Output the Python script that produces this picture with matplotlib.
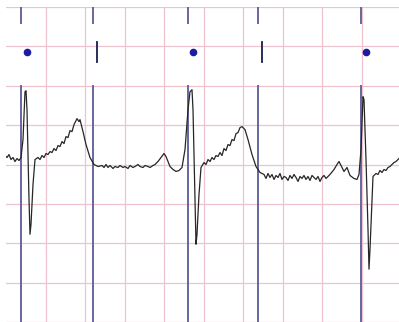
import matplotlib
matplotlib.use("Agg")
import matplotlib.pyplot as plt
import numpy as np

# ECG trace read off the strip (pixel positions on the 399x322 strip),
# converted below to time (s) and amplitude (mV): 0.2 s and 0.5 mV per box
sig_px_x = [5, 7, 9, 11, 13, 15, 17, 19, 21, 23, 25, 26, 27, 29, 30, 31, 33, 35,
            38, 40, 42, 44, 46, 48, 50, 52, 54, 56, 58, 60, 62, 64, 66, 68, 70,
            72, 74, 76, 77, 79, 80, 83, 86, 90, 94, 98,
            102, 104, 106, 108, 110, 113, 115, 118, 120, 123, 125, 128, 130, 133,
            135, 138, 140, 143, 145, 148, 150, 153, 155, 158, 161,
            164, 166, 168, 170, 173, 176, 179, 182, 185, 188, 190, 192, 193, 195,
            196, 197, 199, 201, 204, 206, 208, 210, 212, 214, 216, 218, 220, 222,
            224, 226, 228, 230, 232, 234, 236, 238, 240,
            242, 245, 248, 252, 256, 260, 264, 266, 268, 270, 272, 274, 276, 278,
            280, 282, 284, 286, 288, 290, 292, 294, 296, 298, 300, 302, 304, 306,
            308, 310, 312, 314, 316, 318, 320, 322, 324, 326, 328, 330, 334, 337,
            339, 341, 344, 347, 350, 354, 357, 359, 361, 363, 364, 366, 368, 369,
            370, 372, 373, 376, 378, 380, 382, 384, 386, 388, 390, 392, 394, 396,
            399]
sig_px_y = [156, 158, 155, 160, 158, 162, 159, 161, 158, 140, 92, 91, 110, 200,
            235, 225, 185, 160,
            158, 160, 156, 158, 154, 155, 152, 153, 149, 151, 146, 147, 142, 144,
            137, 138, 131, 132, 125, 121, 119, 122, 120, 132, 145, 158, 165, 167,
            166, 168, 165, 168, 166, 169, 167, 168, 166, 168, 167, 169, 166, 168,
            167, 165, 167, 168, 166, 167, 168, 166, 165, 162, 158,
            154, 157, 162, 167, 170, 172, 171, 168, 150, 110, 92, 90, 110, 200,
            245, 235, 195, 168, 163, 165, 160, 162, 158, 160, 156, 157, 153, 156,
            149, 151, 145, 146, 140, 141, 134, 133, 128,
            127, 130, 140, 155, 167, 173, 175, 179, 174, 178, 175, 180, 176, 178,
            174, 180, 177, 178, 181, 176, 179, 175, 178, 182, 177, 179, 176, 180,
            177, 181, 176, 178, 180, 177, 182, 178, 176, 179, 177, 175, 170, 165,
            162, 166, 172, 168, 176, 179, 180, 175, 150, 97, 100, 160, 230, 270,
            250, 200, 177, 174, 175, 171, 173, 170, 171, 168, 167, 165, 163, 162,
            159]

# beat markers
beat_lines_t = [0.076, 0.441, 0.922, 1.276, 1.797]
dot_t = [0.106, 0.947, 1.823]
tick_t = [0.461, 1.296]

PX_PER_S = 197.5
PX_PER_MV = 79.0
t = (np.array(sig_px_x) - 6) / PX_PER_S
v = (165 - np.array(sig_px_y)) / PX_PER_MV

fig = plt.figure(figsize=(3.99, 3.22), dpi=100)
ax = fig.add_axes([6 / 399, 0, 393 / 399, 315 / 322])
ax.set_xlim(0, 393 / PX_PER_S)
ax.set_ylim(-2.0, 2.0)

# paper grid
grid_col = '#efc3cd'
for gx in np.arange(0.2, 2.0, 0.2):
    ax.axvline(gx, color=grid_col, lw=0.9, zorder=1)
for gy in np.arange(-2.0, 2.01, 0.5):
    ax.axhline(gy, color=grid_col, lw=0.9, zorder=1)

blue = '#66669e'
for bx in beat_lines_t:
    ax.plot([bx, bx], [2.0, 1.8], color=blue, lw=1.4, zorder=2)
    ax.plot([bx, bx], [1.0, -2.0], color=blue, lw=1.4, zorder=2)

ax.plot(dot_t, [1.43] * len(dot_t), 'o', color='#1c1ca0', ms=4.5, zorder=3)
for tx in tick_t:
    ax.plot([tx, tx], [1.56, 1.30], color='#1a1a50', lw=1.3, zorder=3)

ax.plot(t, v, color='#262626', lw=0.9, zorder=4)

ax.axis('off')
fig.savefig('out.png', dpi=100)
